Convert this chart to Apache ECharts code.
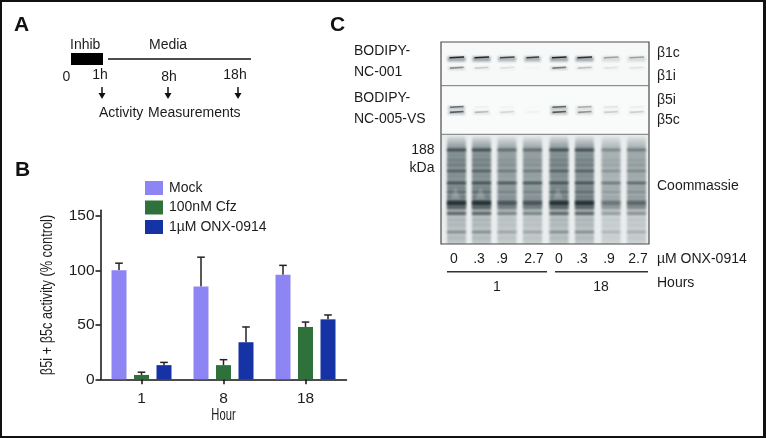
<!DOCTYPE html>
<html><head><meta charset="utf-8">
<style>html,body{margin:0;padding:0;background:#fff}#c{width:766px;height:438px}</style>
<script src="https://cdn.jsdelivr.net/npm/echarts@6/dist/echarts.min.js"></script>
</head><body><div id="c"></div>
<script>
const hours = ['1','8','18'];
const seriesNames = ['Mock','100nM Cfz','1µM ONX-0914'];
const mock = [100,85,96];
const cfz = [4,13,48];
const onx = [13,34,55];
const mockErr = [106.5,112,104.5];
const cfzErr = [6.5,18,52.5];
const onxErr = [15.5,48,59];
const colors = ['#8e85f5','#2f713a','#1533a5'];
const doseLabels = ['0','.3','.9','2.7','0','.3','.9','2.7'];
const beta1c = [1,1,.8,.85,1,.95,.35,.35];
const beta1i = [.6,.22,.12,.02,.7,.28,.1,.1];
const beta5i = [.75,.05,.03,.01,.8,.38,.1,.06];
const beta5c = [.85,.3,.16,.04,.85,.5,.2,.2];
const coomassieLoad = [1,1,.85,.85,1,1,.62,.72];
const yTitle = 'β5i + β5c activity (% control)';

const F = '"Liberation Sans",Arial,sans-serif';
const INK = '#1c1c1c';
const g = [];
const text = (x,y,t,o={}) => g.push(Object.assign({type:'text',x,y,silent:true,style:Object.assign({text:t,fill:INK,font:`${o.w||'normal'} ${o.s||14}px ${F}`,textAlign:o.a||'left',textVerticalAlign:'middle'},o.st||{})},o.el||{}));
const rect = (x,y,w,h,fill) => g.push({type:'rect',silent:true,shape:{x,y,width:w,height:h},style:{fill}});
const line = (x1,y1,x2,y2,lw=1.5,c=INK) => g.push({type:'line',silent:true,shape:{x1,y1,x2,y2},style:{stroke:c,lineWidth:lw}});

// frame
rect(0,0,766,2,'#111'); rect(0,0,2,438,'#111'); rect(763,0,3,438,'#111'); rect(0,436,766,2,'#111');

// panel letters
text(14,25,'A',{s:21,w:'bold',st:{fill:'#111'}});
text(15,170,'B',{s:21,w:'bold',st:{fill:'#111'}});
text(330,25,'C',{s:21,w:'bold',st:{fill:'#111'}});

// panel A
text(70,45,'Inhib'); text(149,45,'Media');
rect(71,53,32,12,'#000');
line(108,59,251,59,1.6,'#111');
text(66.5,77,'0',{a:'center'}); text(100,75,'1h',{a:'center'}); text(169,77,'8h',{a:'center'}); text(235,75,'18h',{a:'center'});
[102,168,238].forEach(x=>{
  line(x,87,x,95,1.5,'#111');
  g.push({type:'polygon',silent:true,shape:{points:[[x-3.5,93],[x+3.5,93],[x,99]]},style:{fill:'#111'}});
});
text(99,113,'Activity'); text(148,113,'Measurements');

// panel C gel, painted softly on an offscreen canvas
const laneX = [456.5,481.5,507,532.5,559,584.5,611,636.5];
const gel = document.createElement('canvas'); gel.width=208; gel.height=202;
const ctx = gel.getContext('2d');
const ox=441, oy=42;
ctx.fillStyle='#f7f8f8'; ctx.fillRect(0,0,208,44);
ctx.fillStyle='#f9fafa'; ctx.fillRect(0,44,208,48);
ctx.fillStyle='#eaeded'; ctx.fillRect(0,92,208,110);
const fuzz = (cx,y,a,hw,below,lw) => { if(a<=0) return;
  ctx.filter='blur(1.1px)';
  ctx.fillStyle=`rgba(40,54,58,${a*.42})`;
  ctx.fillRect(cx-ox-hw,y-oy-1,hw*2,below);
  ctx.filter='blur(0.55px)';
  ctx.strokeStyle=`rgba(30,42,46,${a})`; ctx.lineWidth=lw;
  ctx.beginPath(); ctx.moveTo(cx-ox-hw+2,y-oy+.3); ctx.lineTo(cx-ox+hw-1.5,y-oy-.5); ctx.stroke();
};
const bandsY = [[150,.78,2.6],[155,.18,1.5],[160,.22,3],[165,.25,3],[171,.8,1.6],[176,.14,1.5],[183,.75,2.4],[188,.28,1.4],[192,.5,2],[197,.35,1.5],[203,.92,5],[207.5,.65,2.4],[213.5,.85,2],[220,.14,1.6],[225,.12,1.6],[232,.5,1.8],[238,.1,1.5]];
laneX.forEach((cx,i)=>{
  fuzz(cx,57.5,beta1c[i],i===3?8:9,5,1.5);
  fuzz(cx,67.8,beta1i[i]*.75,8.5,3,1.6);
  ctx.filter='blur(1px)';
  ctx.fillStyle=`rgba(35,48,52,${.02+.04*beta5c[i]})`; ctx.fillRect(cx-ox-8,94,16,38);
  fuzz(cx,107,beta5i[i]*.8,8.5,4,1.4);
  fuzz(cx,112,beta5c[i]*.8,8.5,3.5,1.7);
  ctx.filter='blur(0.8px)';
  const k=coomassieLoad[i];
  const lg=ctx.createLinearGradient(0,95,0,202);
  lg.addColorStop(0,`rgba(90,108,112,${.08*k})`); lg.addColorStop(.1,`rgba(90,108,112,${.62*k})`);
  lg.addColorStop(.62,`rgba(90,108,112,${.72*k})`); lg.addColorStop(.74,`rgba(90,108,112,${.34*k})`); lg.addColorStop(1,`rgba(90,108,112,${.32*k})`);
  ctx.fillStyle=lg; ctx.fillRect(cx-ox-9.5,95,19,107);
  bandsY.forEach(b=>{
    const big=(i<2||i===4||i===5)?1:(b[0]===183?1.15:.8);
    ctx.fillStyle=`rgba(30,40,44,${Math.min(1,b[1]*k*big)})`;
    ctx.fillRect(cx-ox-9.5,b[0]-oy-b[2]/2,19,b[2]);
  });
  if(i<2||i===4){
    ctx.fillStyle='rgba(205,212,212,.3)';
    ctx.beginPath(); ctx.moveTo(cx-ox-6,199-oy); ctx.lineTo(cx-ox-1,187-oy); ctx.lineTo(cx-ox+4,199-oy); ctx.fill();
  }
});
ctx.filter='none';
g.push({type:'image',silent:true,style:{image:gel,x:ox,y:oy,width:208,height:202}});
g.push({type:'rect',silent:true,shape:{x:441,y:42,width:208,height:202},style:{fill:null,stroke:'#4a4a4a',lineWidth:1.2}});
line(441,85.7,649,85.7,1,'#777'); line(441,134.3,649,134.3,1,'#777');

text(354,51,'BODIPY-'); text(354,72,'NC-001'); text(354,98,'BODIPY-'); text(354,119,'NC-005-VS');
text(657,53,'β1c'); text(657,76,'β1i'); text(657,100.5,'β5i'); text(657,120,'β5c');
text(434.5,150,'188',{a:'right'}); text(434.5,168,'kDa',{a:'right'});
text(657,186,'Coommassie');
const doseX = [454,479,502,534,559,582,609,638];
doseLabels.forEach((t,i)=>text(doseX[i],259,t,{a:'center'}));
text(657,259,'µM ONX-0914');
line(447,271.7,547,271.7,1.6,'#333'); line(555,271.7,648,271.7,1.6,'#333');
text(497,287,'1',{a:'center'}); text(601,287,'18',{a:'center'}); text(657,283,'Hours');

// condensed chart titles
text(47.5,295,yTitle,{s:17,a:'center',el:{rotation:Math.PI/2,scaleX:.75,originX:0,originY:0}});
text(223.5,416,'Hour',{s:16,a:'center',el:{scaleX:.7}});

const errSeries = (vals,idx) => ({
  type:'custom',name:seriesNames[idx]+' error',z:1,
  data:vals.map((v,i)=>[i,v]),
  renderItem:(p,api)=>{
    const off=(idx-1)*22.5;
    const top=api.coord([api.value(0),api.value(1)]);
    const base=api.coord([api.value(0),[mock,cfz,onx][idx][api.value(0)]]);
    const x=top[0]+off;
    const s={stroke:'#222',lineWidth:1.5};
    return {type:'group',children:[
      {type:'line',shape:{x1:x,y1:base[1],x2:x,y2:top[1]},style:s},
      {type:'line',shape:{x1:x-3.8,y1:top[1],x2:x+3.8,y2:top[1]},style:s}]};
  }
});
const barSeries = (vals,idx) => ({type:'bar',name:seriesNames[idx],data:vals,barWidth:15,barGap:'50%',z:2,itemStyle:{color:colors[idx]}});

const chart = echarts.init(document.getElementById('c'),null,{renderer:'canvas'});
chart.setOption({
  animation:false,
  backgroundColor:'#fff',
  textStyle:{fontFamily:F},
  grid:{left:100.5,top:210.3,width:246,height:169,containLabel:false},
  legend:{left:145,top:181,padding:0,orient:'vertical',itemWidth:18,itemHeight:14,itemGap:5.5,icon:'rect',selectedMode:false,
    data:seriesNames,textStyle:{fontSize:14,color:INK,fontFamily:F,padding:[0,0,0,1]}},
  xAxis:{type:'category',data:hours,
    axisLine:{lineStyle:{color:'#111',width:1.5}},axisTick:{show:true,alignWithLabel:true,length:5,lineStyle:{color:'#111',width:1.5}},
    axisLabel:{fontSize:15.5,color:INK,margin:11}},
  yAxis:{type:'value',min:0,max:155,interval:50,
    splitLine:{show:false},
    axisLine:{show:true,lineStyle:{color:'#111',width:1.5}},axisTick:{show:true,length:5,lineStyle:{color:'#111',width:1.5}},
    axisLabel:{fontSize:15.5,color:INK,margin:6,showMaxLabel:false}},
  series:[barSeries(mock,0),barSeries(cfz,1),barSeries(onx,2),errSeries(mockErr,0),errSeries(cfzErr,1),errSeries(onxErr,2)],
  graphic:g
});
</script></body></html>
